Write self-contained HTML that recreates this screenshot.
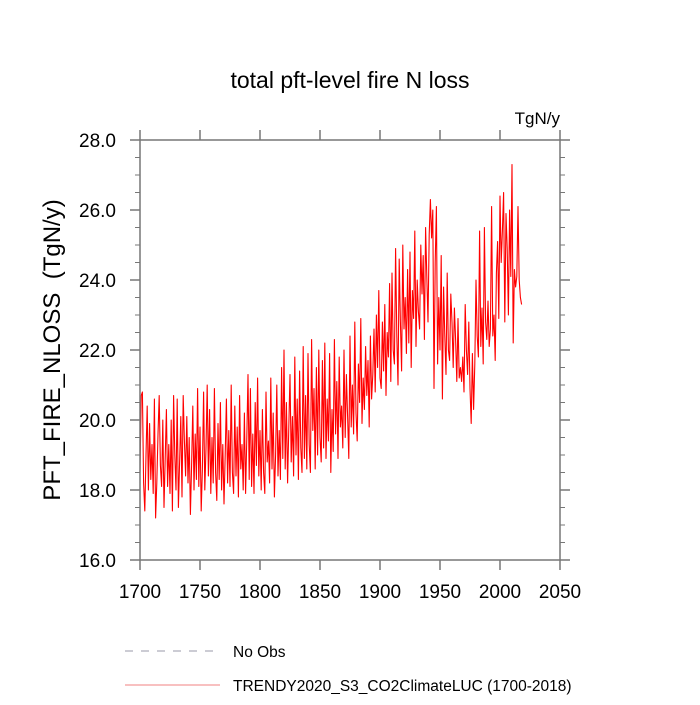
<!DOCTYPE html>
<html><head><meta charset="utf-8"><style>
body{margin:0;background:#fff;}
svg text{font-family:"Liberation Sans",Arial,sans-serif;fill:#000;}
</style></head><body>
<svg id="chart" width="700" height="700" xmlns="http://www.w3.org/2000/svg">
<text x="350" y="88" font-size="23" text-anchor="middle">total pft-level fire N loss</text>
<text x="560" y="124" font-size="17" text-anchor="end">TgN/y</text>
<text transform="translate(60,350) rotate(-90)" font-size="24" text-anchor="middle" xml:space="preserve">PFT_FIRE_NLOSS  (TgN/y)</text>
<g id="ticks"></g>
<g id="series"></g>
<rect x="140" y="140" width="420" height="420" fill="none" stroke="#777" stroke-width="1.5"/>
<g>
<line x1="125" y1="651" x2="220" y2="651" stroke="#99a" stroke-width="1" stroke-dasharray="8,8"/>
<text x="233" y="657" font-size="15.5">No Obs</text>
<line x1="125" y1="685" x2="220" y2="685" stroke="#f08080" stroke-width="1"/>
<text x="233" y="691" font-size="15.5">TRENDY2020_S3_CO2ClimateLUC (1700-2018)</text>
</g>
</svg>
<script>
const startYear = 1700;
const values = [
18.5,20.7,20.8,18.2,17.4,19.0,20.4,18.0,19.9,18.3,
19.3,17.9,20.6,17.2,18.2,19.6,20.7,18.7,18.1,20.0,
17.5,18.9,20.3,18.1,19.3,17.9,20.0,17.4,20.7,19.0,
18.0,20.6,17.5,18.8,20.1,17.8,20.7,19.4,18.4,20.1,
18.2,19.5,17.3,18.7,20.4,18.0,19.6,18.3,20.9,18.1,
19.8,17.4,18.6,20.8,18.0,19.2,21.0,18.4,20.3,17.9,
19.5,18.2,20.9,18.5,17.7,19.9,18.3,20.5,18.0,19.3,
17.6,19.0,20.6,18.2,19.7,18.1,21.0,18.5,17.9,20.4,
18.4,19.8,17.8,20.7,18.6,19.3,18.0,20.2,17.9,19.5,
21.3,18.3,20.9,18.1,19.6,17.9,20.5,18.7,21.2,18.4,
19.7,18.0,20.3,18.5,17.9,20.8,18.8,19.4,18.2,21.2,
18.6,20.2,17.8,19.0,21.0,18.4,19.7,18.3,21.5,18.9,
22.0,18.6,20.5,18.2,19.8,21.3,18.8,20.1,18.4,21.8,
19.0,20.6,18.3,21.4,19.2,18.5,22.1,18.9,20.7,18.6,
21.9,19.3,18.5,22.3,19.7,20.9,18.6,21.5,19.0,22.0,
19.5,18.8,21.7,19.2,22.2,18.9,20.6,19.4,21.9,18.5,
20.3,19.1,22.3,19.6,21.1,18.9,21.8,19.8,20.4,19.2,
22.0,19.5,21.3,20.1,18.9,22.4,19.8,21.0,19.6,22.8,
20.2,19.4,21.6,20.5,22.9,19.9,21.2,20.3,22.1,20.7,
21.7,19.8,22.4,20.6,21.3,22.6,20.8,23.0,21.5,23.7,
21.2,20.9,22.8,21.4,23.3,20.7,22.5,21.8,23.9,21.1,
24.2,22.0,21.6,24.9,22.4,21.0,24.6,22.8,21.4,25.0,
22.6,23.5,21.9,24.3,22.2,24.8,21.5,23.7,22.9,25.4,
22.1,24.0,23.1,22.6,25.0,23.6,24.7,22.3,25.5,24.1,
22.8,25.3,26.3,25.2,26.0,20.9,24.5,26.1,21.6,23.5,
22.0,24.7,20.6,23.8,22.4,21.3,24.2,22.0,21.7,23.6,
22.8,21.5,23.2,22.3,21.1,22.9,21.2,21.5,21.1,21.8,
20.8,23.3,22.0,21.3,22.8,20.9,19.9,21.9,20.3,21.6,
24.0,22.4,21.8,25.4,22.1,23.2,21.6,25.5,22.8,22.3,
23.4,22.1,22.6,26.1,22.4,23.0,21.7,24.2,25.1,22.9,
26.4,24.5,25.4,26.5,22.8,25.9,24.9,23.0,26.0,24.1,
27.3,22.2,24.3,23.8,24.1,26.1,24.0,23.5,23.3
];
const xTicks = [1700,1750,1800,1850,1900,1950,2000,2050];
const yTicks = [16.0,18.0,20.0,22.0,24.0,26.0,28.0];
const yMinorTicks = [16.5,17,17.5,18.5,19,19.5,20.5,21,21.5,22.5,23,23.5,24.5,25,25.5,26.5,27,27.5];

const NS="http://www.w3.org/2000/svg";
const X0=140,X1=560,Y0=560,Y1=140;
function xs(v){return X0+(v-1700)/(2050-1700)*(X1-X0);}
function ys(v){return Y0-(v-16)/(28-16)*(Y0-Y1);}
function mk(tag,attrs,parent){const e=document.createElementNS(NS,tag);for(const k in attrs)e.setAttribute(k,attrs[k]);parent.appendChild(e);return e;}
const tg=document.getElementById('ticks');
xTicks.forEach(t=>{
  const x=xs(t);
  let l=mk('line',{x1:x,y1:560,x2:x,y2:570,stroke:'#777','stroke-width':1.5},tg);
  
  
  l=mk('line',{x1:x,y1:140,x2:x,y2:130,stroke:'#777','stroke-width':1.5},tg);
  
  
  const tx=mk('text',{x:x,y:598,'font-size':19,'text-anchor':'middle'},tg);
  tx.textContent=t;
  
  
});
yTicks.forEach(t=>{
  const y=ys(t);
  let l=mk('line',{x1:130,y1:y,x2:140,y2:y,stroke:'#777','stroke-width':1.5},tg);
  
  
  l=mk('line',{x1:560,y1:y,x2:570,y2:y,stroke:'#777','stroke-width':1.5},tg);
  
  
  const tx=mk('text',{x:116,y:y+7,'font-size':19,'text-anchor':'end'},tg);
  tx.textContent=t.toFixed(1);
  
  
});
yMinorTicks.forEach(t=>{
  const y=ys(t);
  let l=mk('line',{x1:135,y1:y,x2:140,y2:y,stroke:'#777','stroke-width':1},tg);
  
  
  l=mk('line',{x1:560,y1:y,x2:565,y2:y,stroke:'#777','stroke-width':1},tg);
  
  
});
const pts=values.map((v,i)=>xs(startYear+i).toFixed(2)+','+ys(v).toFixed(2)).join(' ');
const pl=mk('polyline',{points:pts,fill:'none',stroke:'#ff0000','stroke-width':1.1,'stroke-linejoin':'round'},document.getElementById('series'));


</script>
</body></html>
